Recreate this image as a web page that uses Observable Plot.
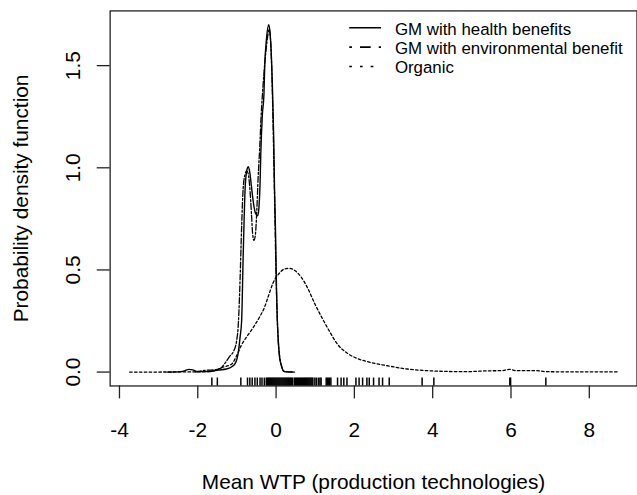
<!DOCTYPE html>
<html>
<head>
<meta charset="utf-8">
<script src="https://cdn.jsdelivr.net/npm/d3@7"></script>
<script src="https://cdn.jsdelivr.net/npm/@observablehq/plot@0.6"></script>
<style>
html, body { margin: 0; padding: 0; background: #fff; overflow: hidden; width: 637px; height: 495px; }
#chart { position: relative; width: 637px; height: 495px; overflow: hidden; }
</style>
</head>
<body>
<div id="chart"></div>
<script>
// ---- Data ----
const legendLabels = ["GM with health benefits", "GM with environmental benefit", "Organic"];
const xTitle = "Mean WTP (production technologies)";
const yTitle = "Probability density function";
const xTicks = [-4, -2, 0, 2, 4, 6, 8];
const yTicks = [0, 0.5, 1, 1.5];

// GM with health benefits (solid)
const healthX = [-2.78, -2.49, -2.34, -2.23, -2.13, -2.03, -1.90, -1.68, -1.47, -1.27, -1.14, -1.05, -0.96, -0.92, -0.88, -0.84, -0.79, -0.75, -0.71, -0.67, -0.63, -0.58, -0.52, -0.47, -0.44, -0.41, -0.39, -0.35, -0.31, -0.29, -0.25, -0.185, -0.15, -0.13, -0.09, -0.06, -0.04, -0.01, 0.01, 0.03, 0.06, 0.09, 0.14, 0.18, 0.25, 0.47];
const healthY = [0, 0.001, 0.006, 0.013, 0.011, 0.003, 0.002, 0.003, 0.010, 0.015, 0.025, 0.040, 0.103, 0.17, 0.25, 0.57, 0.90, 0.985, 1.005, 0.975, 0.91, 0.83, 0.775, 0.765, 0.80, 0.92, 1.07, 1.26, 1.36, 1.50, 1.62, 1.70, 1.65, 1.59, 1.37, 1.14, 0.90, 0.65, 0.41, 0.265, 0.144, 0.07, 0.03, 0.008, 0.001, 0];

// GM with environmental benefit (dash-dot)
const envX = [-2.06, -1.85, -1.60, -1.42, -1.30, -1.17, -1.09, -1.01, -0.96, -0.92, -0.88, -0.84, -0.79, -0.75, -0.71, -0.67, -0.63, -0.60, -0.565, -0.53, -0.49, -0.46, -0.42, -0.38, -0.33, -0.28, -0.23, -0.175, -0.14, -0.11, -0.085, -0.06, -0.035, -0.01, 0.015, 0.045, 0.09, 0.14, 0.20, 0.46];
const envY = [0.001, 0.008, 0.011, 0.018, 0.045, 0.08, 0.10, 0.15, 0.25, 0.45, 0.71, 0.90, 0.97, 0.985, 0.97, 0.90, 0.78, 0.68, 0.645, 0.67, 0.80, 0.945, 1.09, 1.26, 1.41, 1.53, 1.62, 1.68, 1.62, 1.48, 1.29, 1.06, 0.82, 0.56, 0.36, 0.19, 0.08, 0.028, 0.003, 0];

// Organic (dotted)
const organicX = [-3.74, -1.98, -1.60, -1.39, -1.13, -1.02, -0.89, -0.76, -0.63, -0.42, -0.30, -0.20, -0.08, 0.09, 0.22, 0.35, 0.48, 0.64, 0.81, 0.98, 1.15, 1.36, 1.57, 1.83, 2.08, 2.42, 2.84, 3.35, 3.86, 4.37, 4.87, 5.38, 5.76, 5.96, 6.14, 6.65, 6.90, 7.66, 8.72];
const organicY = [0, 0.001, 0.006, 0.022, 0.04, 0.075, 0.13, 0.17, 0.205, 0.27, 0.315, 0.37, 0.435, 0.485, 0.505, 0.508, 0.497, 0.465, 0.41, 0.338, 0.274, 0.201, 0.136, 0.091, 0.066, 0.047, 0.031, 0.015, 0.007, 0.003, 0.002, 0.006, 0.007, 0.013, 0.007, 0.007, 0.002, 0.001, 0.001];

// Rug (observed WTP values)
const rugValues = [-1.64, -1.50, -0.90, -0.73, -0.67, -0.61, -0.54, -0.48, -0.41, -0.36, -0.30,
  -0.25, -0.225, -0.2, -0.175, -0.15, -0.125, -0.1, -0.075, -0.05, -0.025, 0, 0.025, 0.05, 0.075, 0.1, 0.125, 0.15, 0.175, 0.2, 0.225, 0.25, 0.275, 0.3, 0.325, 0.35, 0.375, 0.4, 0.425,
  0.47, 0.495, 0.52, 0.545, 0.57, 0.595, 0.62, 0.645, 0.67, 0.695, 0.72, 0.745, 0.77, 0.795, 0.82, 0.845, 0.87, 0.895, 0.92, 0.94,
  0.99, 1.03, 1.08, 1.12, 1.15, 1.28, 1.31, 1.34, 1.37, 1.40, 1.57, 1.66, 1.73, 1.81,
  2.04, 2.12, 2.21, 2.32, 2.38, 2.49, 2.63, 2.72, 2.89, 3.73, 4.03, 5.97, 5.99, 6.89];

// ---- Build tables ----
const toRows = (xs, ys) => xs.map((x, i) => ({x, y: ys[i]}));
const healthRows = toRows(healthX, healthY);
const envRows = toRows(envX, envY);
const organicRows = toRows(organicX, organicY);

// R-style 4% axis expansion
const xr = d3.extent(organicX);
const xPad = 0.04 * (xr[1] - xr[0]);
const yMax = d3.max([...healthY, ...envY, ...organicY]);
const yPad = 0.04 * yMax;

const font = "Arial, 'Liberation Sans', Helvetica, sans-serif";
const dashes = {health: null, env: "6,2,2,2", organic: "2.6,2.3"};
const legendDashes = [null, "2.7,8.1,10.8,8.1", "2.7,8.1"];

const plot = Plot.plot({
  width: 642,
  height: 495,
  marginLeft: 110.5,
  marginRight: 0.5,
  marginTop: 10.5,
  marginBottom: 106.5,
  style: {fontFamily: font, fontSize: "21px", color: "black", background: "white", overflow: "visible"},
  x: {domain: [xr[0] - xPad, xr[1] + xPad], label: null},
  y: {domain: [-yPad, yMax + yPad], label: null},
  marks: [
    Plot.frame({stroke: "#222", strokeWidth: 1.3}),
    Plot.axisX(xTicks, {tickSize: 13, tickPadding: 23.5, tickFormat: d => String(d), fontSize: 21, stroke: "#222", strokeWidth: 1.3, label: null}),
    Plot.axisY(yTicks, {tickSize: 13, tickPadding: 17.5, tickRotate: -90, tickFormat: d => d.toFixed(1), fontSize: 21, stroke: "#222", strokeWidth: 1.3, label: null}),
    Plot.line(organicRows, {x: "x", y: "y", stroke: "black", strokeWidth: 1.3, strokeDasharray: dashes.organic, curve: "monotone-x"}),
    Plot.line(envRows, {x: "x", y: "y", stroke: "black", strokeWidth: 1.3, strokeDasharray: dashes.env, curve: "monotone-x"}),
    Plot.line(healthRows, {x: "x", y: "y", stroke: "black", strokeWidth: 1.4, curve: "monotone-x"}),
    Plot.tickX(rugValues, {x: d => d, insetTop: 370, stroke: "black", strokeWidth: 1.5}),
    Plot.text([xTitle], {frameAnchor: "bottom", text: d => d, textAnchor: "middle", lineAnchor: "bottom", dy: 103.5, fontSize: 21}),
    Plot.text([yTitle], {frameAnchor: "left", text: d => d, textAnchor: "middle", rotate: -90, lineAnchor: "bottom", dx: -83.2, fontSize: 21})
  ]
});

document.getElementById("chart").appendChild(plot);

// ---- Legend (inside plot, top right, R-style, no box) ----
const svg = d3.select(plot);
const lg = svg.append("g").attr("font-family", font).attr("font-size", 17).attr("text-anchor", "start");
const rowCenters = [29, 48.5, 68];
legendLabels.forEach((lab, i) => {
  const cy = rowCenters[i];
  const ln = lg.append("line")
    .attr("x1", 352).attr("x2", 384)
    .attr("y1", cy - 1).attr("y2", cy - 1)
    .attr("stroke", "black").attr("stroke-width", 1.6);
  if (legendDashes[i]) ln.attr("stroke-dasharray", legendDashes[i]);
  lg.append("text")
    .attr("x", 398).attr("y", cy + 6)
    .attr("text-anchor", "start")
    .attr("fill", "black")
    .text(lab);
});
</script>
</body>
</html>
